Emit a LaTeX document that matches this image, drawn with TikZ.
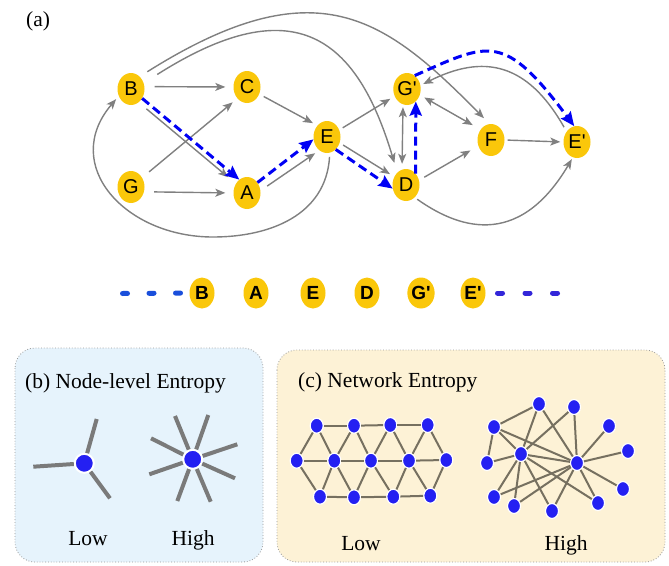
\documentclass[tikz,border=0pt]{standalone}
\usepackage{fontspec}
\setmainfont{Liberation Serif}
\newfontfamily\lsans{Liberation Sans}
\usetikzlibrary{arrows.meta,shapes.geometric}
\definecolor{gold}{RGB}{250,199,10}
\definecolor{eg}{RGB}{128,128,128}
\definecolor{pblue}{RGB}{0,0,245}
\definecolor{nblue}{RGB}{36,32,242}
\definecolor{bbg}{RGB}{230,243,252}
\definecolor{cbg}{RGB}{253,242,214}
\definecolor{netedge}{RGB}{118,112,96}
\definecolor{raygray}{RGB}{122,122,122}
\definecolor{dashl}{RGB}{26,79,219}
\definecolor{dashr}{RGB}{51,38,217}
\begin{document}
\begin{tikzpicture}[x=1pt,y=-1pt,
 vn/.style={ellipse,fill=gold,minimum width=27pt,minimum height=32pt,inner sep=0pt,font=\lsans\fontsize{20}{20}\selectfont},
 vm/.style={vn,minimum width=25pt,minimum height=31pt,font=\lsans\bfseries\fontsize{19}{19}\selectfont},
 ge/.style={draw=eg,line width=1.4pt,-{Stealth[length=10pt,width=8pt,inset=2.5pt]},shorten <=5pt,shorten >=4pt},
 gd/.style={ge,{Stealth[length=10pt,width=8pt,inset=2.5pt]}-{Stealth[length=10pt,width=8pt,inset=2.5pt]}},
 be/.style={draw=pblue,line width=3pt,dash pattern=on 9pt off 5pt,-{Stealth[length=14pt,width=12pt,inset=2pt]}},
 dl/.style={line width=5pt,line cap=round},
 lbl/.style={font=\fontsize{21.5}{24}\selectfont,inner sep=0pt},
 panel/.style={rounded corners=20pt,draw=gray!80,dotted,line width=0.8pt},
 nn/.style={ellipse,fill=nblue,draw=white,line width=1.2pt,minimum width=13pt,minimum height=15pt,inner sep=0pt},
 ne/.style={draw=netedge,line width=2pt},
 bn/.style={circle,fill=nblue,draw=white,line width=2pt,minimum size=19pt,inner sep=0pt},
 ray/.style={draw=raygray,line width=4pt}
]
\useasboundingbox[fill=white] (0,0) rectangle (669,565);

% ---------- (a) ----------
\node[lbl,anchor=base west] (ta) at (26,26) {(a)};
\node[vn] (B) at (131,89) {B};
\node[vn] (C) at (247,87) {C};
\node[vn] (E) at (327,137) {E};
\node[vn] (G) at (131,187) {G};
\node[vn] (A) at (247,193) {A};
\node[vn] (Gp) at (407,89) {G'};
\node[vn] (D) at (406,185) {D};
\node[vn] (F) at (491,140) {F};
\node[vn] (Ep) at (577,142) {E'};
\coordinate (eb) at (213,237);

\draw[ge,shorten <=10pt,shorten >=8pt] (B.10) -- (C.west);
\draw[ge,shorten <=10pt,shorten >=10pt] (B.-60) -- (A.140);
\draw[ge,shorten <=9pt,shorten >=6pt] (G.40) -- (C.-130);
\draw[ge,shorten <=10pt,shorten >=8pt] (G.-20) -- (A.west);
\draw[ge,shorten <=5pt,shorten >=5pt] (C.-30) -- (E.130);
\draw[ge,shorten <=8pt,shorten >=5pt] (A.10) -- (E.-120);
\draw[ge,shorten <=4pt,shorten >=4pt] (E.-80) .. controls (326,215) and (270,237) .. (eb) .. controls (125,237) and (60,165) .. (B.-150);
\draw[ge,shorten <=16pt,shorten >=10pt] (B.25) .. controls (295,-13) and (357,38) .. (D.125);
\draw[ge,shorten <=9pt,shorten >=8pt] (B.55) .. controls (317,-35) and (385,18) .. (F.95);
\draw[ge,shorten <=4pt,shorten >=5pt] (E.30) -- (Gp.-150);
\draw[ge,shorten <=4pt,shorten >=5pt] (E.-25) -- (D.145);
\draw[gd,shorten <=2pt,shorten >=5pt] ([xshift=-4pt]Gp.south) -- ([xshift=-4pt]D.north);
\draw[gd,shorten <=5pt,shorten >=9pt] (Gp.-25) -- (F.135);
\draw[ge,shorten <=6pt,shorten >=9pt] (D.20) -- (F.-155);
\draw[ge,shorten <=3pt,shorten >=3pt] (F.east) -- (Ep.west);
\draw[ge,shorten <=3pt,shorten >=2pt] (D.-55) .. controls (455,226) and (517,252) .. (Ep.-105);
\draw[ge,shorten <=5pt,shorten >=3pt] (Ep.135) .. controls (527,62) and (483,54) .. (Gp.15);

\draw[be] (B.-40) -- (A.120);
\draw[be] (A.45) -- (E.-170);
\draw[be] (E.-55) -- (D.-165);
\draw[be] (D.50) -- (Gp.-55);
\draw[be] (Gp.60) .. controls (490,42) and (504,32) .. (Ep.100);

% ---------- sequence row ----------
\node[vm] (Bm) at (202,293) {B};
\node[vm] (Am) at (256,293) {A};
\node[vm] (Em) at (313,293) {E};
\node[vm] (Dm) at (367,293) {D};
\node[vm] (Gpm) at (421,293) {G'};
\node[vm] (Epm) at (473,293) {E'};
\coordinate (ls) at (122.5,293.5);
\coordinate (rs) at (557.5,293);
\draw[dl,draw=dashl,dash pattern=on 5pt off 21.5pt] (ls) -- (Bm.west);
\draw[dl,draw=dashr,dash pattern=on 5pt off 22.5pt] (rs) -- (Epm.east);

% ---------- panels ----------
\draw[panel,fill=bbg] (15,348) rectangle (263,562);
\draw[panel,fill=cbg] (277,350) rectangle (665,562);
\node[lbl,anchor=base west] (tb) at (25,388) {(b) Node-level Entropy};
\node[lbl,anchor=base west] (tc) at (298,387) {(c) Network Entropy};
\node[lbl,anchor=base] (lowb) at (88,545) {Low};
\node[lbl,anchor=base] (highb) at (193,545) {High};
\node[lbl,anchor=base] (lowc) at (361,550) {Low};
\node[lbl,anchor=base] (highc) at (566,550) {High};

% (b) node-level
\node[bn] (lc) at (84.3,463.3) {};
\coordinate (lr1) at (33.3,466.7);
\coordinate (lr2) at (96.7,419);
\coordinate (lr3) at (110,498.3);
\foreach \r in {lr1,lr2,lr3} \draw[ray] (lc) -- (\r);
\node[bn] (hc) at (192.7,459.3) {};
\coordinate (hr1) at (175,416);
\coordinate (hr2) at (208.3,415);
\coordinate (hr3) at (151,438.3);
\coordinate (hr4) at (237.3,444.3);
\coordinate (hr5) at (149.3,474.3);
\coordinate (hr6) at (235,478.3);
\coordinate (hr7) at (177.3,501);
\coordinate (hr8) at (210.7,501.7);
\foreach \r in {hr1,hr2,hr3,hr4,hr5,hr6,hr7,hr8} \draw[ray] (hc) -- (\r);

% (c) low: lattice
\node[nn] (t1) at (316.7,425.7) {};
\node[nn] (t2) at (354,425.7) {};
\node[nn] (t3) at (390.3,425) {};
\node[nn] (t4) at (427.7,425) {};
\node[nn] (m1) at (296.7,460.7) {};
\node[nn] (m2) at (334.3,460.7) {};
\node[nn] (m3) at (371,460.7) {};
\node[nn] (m4) at (409,460.7) {};
\node[nn] (m5) at (446.3,460) {};
\node[nn] (b1) at (320,496.7) {};
\node[nn] (b2) at (354,497.3) {};
\node[nn] (b3) at (393.3,496.7) {};
\node[nn] (b4) at (430.3,495.7) {};
\foreach \a/\b in {t1/t2,t2/t3,t3/t4,m1/m2,m2/m3,m3/m4,m4/m5,b1/b2,b2/b3,b3/b4,
  t1/m1,t1/m2,t2/m2,t2/m3,t3/m3,t3/m4,t4/m4,t4/m5,
  b1/m1,b1/m2,b2/m2,b2/m3,b3/m3,b3/m4,b4/m4,b4/m5}
  \draw[ne] (\a) -- (\b);

% (c) high
\node[nn] (n1) at (539,404) {};
\node[nn] (n2) at (574,407) {};
\node[nn] (n3) at (494,427) {};
\node[nn] (n4) at (609,426) {};
\node[nn] (n5) at (628,451) {};
\node[nn] (n6) at (521,454) {};
\node[nn] (n7) at (577,463) {};
\node[nn] (n8) at (487,463) {};
\node[nn] (n9) at (623,489) {};
\node[nn] (n10) at (494,497) {};
\node[nn] (n11) at (514,506) {};
\node[nn] (n12) at (598,503) {};
\node[nn] (n13) at (552,511) {};
\foreach \a/\b in {n3/n1,n3/n8,n3/n6,n3/n7,n1/n6,n1/n7,n2/n6,n2/n7,n4/n7,n5/n7,
  n6/n7,n6/n8,n6/n10,n6/n11,n6/n13,n6/n12,n7/n9,n7/n12,n7/n13,n7/n10,n7/n11}
  \draw[ne] (\a) -- (\b);
\end{tikzpicture}
\end{document}
